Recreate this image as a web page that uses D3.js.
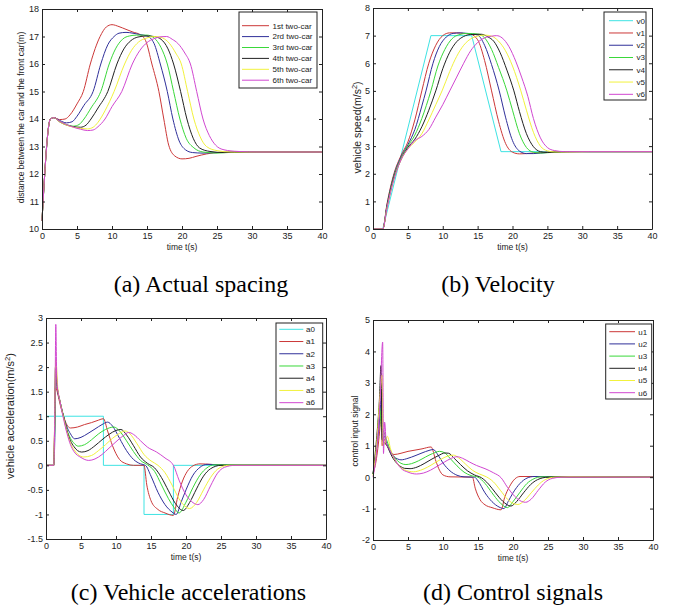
<!DOCTYPE html>
<html>
<head>
<meta charset="utf-8">
<script src="https://cdn.jsdelivr.net/npm/d3@7"></script>
<style>
body { margin: 0; background: #fff; }
svg text { font-family: "Liberation Sans", Arial, sans-serif; fill: #222; }
svg text.caption { font-family: "Liberation Serif", "Times New Roman", serif; fill: #000; }
</style>
</head>
<body>
<script>
// values, [time, value]
const timeTicks = [0, 5, 10, 15, 20, 25, 30, 35, 40]

const spacingTicks = [10, 11, 12, 13, 14, 15, 16, 17, 18]
const speedTicks = [0, 1, 2, 3, 4, 5, 6, 7, 8]
const accelTicks = [-1.5, -1, -0.5, 0, 0.5, 1, 1.5, 2, 2.5, 3]
const controlTicks = [-2, -1, 0, 1, 2, 3, 4, 5]

const spacingNames = ['1st two-car', '2rd two-car', '3rd two-car', '4th two-car', '5th two-car', '6th two-car']
const speedNames = ['v0', 'v1', 'v2', 'v3', 'v4', 'v5', 'v6']
const accelNames = ['a0', 'a1', 'a2', 'a3', 'a4', 'a5', 'a6']
const controlNames = ['u1', 'u2', 'u3', 'u4', 'u5', 'u6']

const spacing1 = [[0,10.3],[1.2,14],[1.7,14.05],[2.5,13.98],[3.3,14.0],[4,14.15],[5,14.55],[5.9,15],[6.9,16],[8.3,17],[9.2,17.35],[10,17.43],[11,17.36],[12,17.26],[13,17.16],[14,17.07],[14.8,16.85],[15.7,16],[16.7,15],[17.4,14],[18.1,13.05],[19,12.65],[20,12.55],[21,12.57],[22,12.64],[23.5,12.73],[25.5,12.79],[28,12.8],[40,12.8]]
const spacing2 = [[0,10.3],[1.2,14],[1.7,14.05],[2.5,13.95],[3.5,13.86],[4.3,13.9],[5,14.1],[6,14.5],[7.3,15],[8.4,16],[9.4,16.7],[10.3,17.0],[11,17.12],[12,17.15],[13,17.12],[14,17.07],[15,17.02],[16,16.75],[16.9,16],[17.9,15],[18.7,14],[19.6,13.2],[20.5,12.88],[21.5,12.78],[23,12.76],[25,12.78],[27,12.8],[40,12.8]]
const spacing3 = [[0,10.3],[1.2,14],[1.7,14.05],[2.5,13.92],[3.5,13.8],[4.5,13.74],[5.3,13.8],[6,14.0],[7,14.4],[8.4,15],[9.6,16],[10.5,16.55],[11.5,16.9],[12.5,17.02],[13.5,17.05],[15,17.05],[16,16.95],[17,16.6],[17.9,16],[18.8,15],[19.7,14],[20.6,13.3],[21.7,12.95],[23,12.8],[25,12.76],[28,12.8],[40,12.8]]
const spacing4 = [[0,10.3],[1.2,14],[1.7,14.05],[2.5,13.9],[3.5,13.78],[4.5,13.72],[5.5,13.7],[6.3,13.78],[7,14.0],[8,14.4],[9.4,15],[10.7,16],[11.7,16.55],[12.7,16.85],[13.7,16.98],[15,17.02],[16,17.0],[17,16.9],[18,16.55],[18.8,16],[19.8,15],[20.7,14],[21.6,13.3],[22.5,12.95],[24,12.82],[26,12.78],[29,12.8],[40,12.8]]
const spacing5 = [[0,10.3],[1.2,14],[1.7,14.05],[2.5,13.9],[3.5,13.78],[4.5,13.7],[5.5,13.66],[6.5,13.64],[7.3,13.7],[8,13.88],[9,14.3],[10.3,15],[11.8,16],[12.8,16.5],[13.8,16.8],[15,16.95],[16.2,17.0],[17.2,16.95],[18.2,16.75],[19.1,16.4],[19.9,16],[20.8,15],[21.7,14],[22.6,13.35],[23.5,13.0],[25,12.85],[27,12.8],[40,12.8]]
const spacing6 = [[0,10.3],[1.2,14],[1.7,14.05],[2.5,13.92],[3.5,13.8],[4.5,13.7],[5.5,13.63],[6.5,13.58],[7.3,13.6],[8,13.72],[9,14.0],[10,14.45],[11.4,15],[12.9,16],[14,16.5],[15,16.78],[16,16.92],[17,16.99],[17.8,17.0],[18.6,16.9],[19.4,16.75],[20.4,16.4],[21.2,16],[22.1,15],[23,14],[23.9,13.4],[24.8,13.05],[26,12.88],[28,12.82],[31,12.8],[40,12.8]]

const speed0 = [[0,0],[1.4,0],[8.3,7],[14.15,7],[18.35,2.8],[40,2.8]]
const speed1 = [[0,0],[1.4,0],[2,0.9],[3,2.0],[4,2.65],[5,3.15],[6,3.95],[7,5.0],[8,6.0],[9,6.65],[10,7.0],[11,7.1],[12,7.1],[13,7.08],[14,7.05],[15,6.85],[16,6.1],[17,5.0],[18,3.9],[19,3.1],[20,2.78],[21,2.72],[22,2.73],[24,2.77],[27,2.8],[40,2.8]]
const speed2 = [[0,0],[1.4,0],[2,0.85],[3,1.95],[4,2.6],[5,3.05],[6,3.6],[7,4.45],[7.6,5.0],[8.6,6.0],[9.5,6.6],[10.5,6.95],[11.5,7.08],[12.5,7.1],[13.5,7.08],[15,7.02],[16,6.65],[17,5.95],[18.1,5.0],[19,4.05],[20,3.2],[21,2.82],[22,2.73],[23,2.73],[25,2.77],[28,2.8],[40,2.8]]
const speed3 = [[0,0],[1.4,0],[2,0.8],[3,1.9],[4,2.55],[5,3.0],[6,3.4],[7,4.0],[8.3,5.0],[9.3,5.9],[10.3,6.5],[11.3,6.88],[12.3,7.03],[13.5,7.08],[15,7.06],[16,6.92],[17,6.5],[18,5.85],[19.2,5.0],[20,4.3],[21,3.45],[22,2.95],[23,2.78],[24,2.75],[26,2.78],[29,2.8],[40,2.8]]
const speed4 = [[0,0],[1.4,0],[2,0.8],[3,1.85],[4,2.5],[5,2.95],[6,3.25],[7,3.7],[8,4.3],[9,5.0],[10,5.8],[11,6.4],[12,6.78],[13,6.97],[14,7.04],[15.5,7.05],[16.5,6.95],[17.3,6.8],[18.2,6.4],[19.2,5.75],[20.2,5.0],[21,4.25],[22,3.45],[23,2.98],[24,2.8],[25,2.77],[27,2.79],[30,2.8],[40,2.8]]
const speed5 = [[0,0],[1.4,0],[2,0.75],[3,1.8],[4,2.5],[5,2.9],[6,3.15],[7,3.45],[8,3.95],[9,4.5],[9.9,5.0],[11,5.7],[12,6.25],[13,6.65],[14,6.88],[15,6.98],[16,7.02],[17,6.98],[18,6.8],[19,6.45],[20,5.9],[21.2,5.0],[22,4.3],[23,3.5],[24,3.0],[25,2.83],[26,2.79],[28,2.79],[31,2.8],[40,2.8]]
const speed6 = [[0,0],[1.4,0],[2,0.75],[3,1.8],[4,2.5],[5,2.9],[6,3.2],[7,3.35],[8,3.6],[9,4.05],[10,4.5],[11,5.0],[12,5.5],[13,6.0],[14,6.45],[15,6.75],[16,6.92],[17,6.98],[17.7,7.0],[18.5,6.92],[19.5,6.6],[20.5,6.05],[21.3,5.5],[22.2,4.8],[23,4.0],[24,3.3],[25,2.95],[26,2.84],[27.5,2.8],[40,2.8]]

const accel0 = [[0,1],[8.2,1],[8.2,0],[14,0],[14,-1],[18.2,-1],[18.2,0],[40,0]]
const accel1 = [[0,0],[1.1,0],[1.2,0.6],[1.35,1.6],[1.6,1.5],[2,1.25],[2.5,1.0],[3,0.82],[3.5,0.76],[4.5,0.78],[5.5,0.83],[6.5,0.87],[7.5,0.92],[8.2,0.95],[8.8,0.7],[9.5,0.4],[10.5,0.12],[11.5,0.03],[12.5,0],[14,0],[14.4,-0.4],[15,-0.72],[16,-0.9],[17,-0.97],[18.2,-1.02],[18.8,-0.65],[19.5,-0.32],[20.2,-0.12],[21,-0.01],[22,0.03],[23.5,0.02],[26,0],[40,0]]
const accel2 = [[0,0],[1.1,0],[1.25,0.5],[1.4,2.0],[1.6,1.6],[2,1.3],[2.5,1.0],[3,0.78],[3.5,0.64],[4.1,0.54],[5,0.57],[6,0.65],[7,0.74],[8,0.83],[8.8,0.88],[9.5,0.8],[10.5,0.55],[11.5,0.3],[12.5,0.12],[13.5,0.03],[14.2,0],[15,-0.22],[16,-0.55],[17,-0.8],[18,-0.95],[18.6,-1.0],[19.3,-0.75],[20,-0.5],[21,-0.2],[22,-0.04],[23,0.02],[25,0.01],[28,0],[40,0]]
const accel3 = [[0,0],[1.1,0],[1.25,0.7],[1.4,1.8],[1.7,1.5],[2,1.3],[2.5,1.0],[3,0.72],[3.5,0.55],[4,0.45],[4.6,0.39],[5.5,0.42],[6.5,0.52],[7.5,0.64],[8.5,0.73],[9.7,0.78],[10.5,0.7],[11.5,0.5],[12.5,0.28],[13.5,0.1],[14.5,0.01],[15.5,-0.12],[16.5,-0.4],[17.5,-0.68],[18.3,-0.86],[19,-0.97],[20,-0.75],[21,-0.45],[22,-0.2],[23,-0.05],[24,0.01],[26,0.01],[40,0]]
const accel4 = [[0,0],[1.1,0],[1.2,0.5],[1.35,2.0],[1.6,1.6],[2,1.3],[2.5,1.0],[3,0.7],[3.5,0.5],[4,0.38],[4.5,0.3],[5.1,0.27],[6,0.3],[7,0.4],[8,0.52],[9,0.63],[10,0.71],[10.7,0.73],[11.5,0.62],[12.5,0.4],[13.5,0.17],[14.5,0.04],[15.5,-0.05],[16.5,-0.25],[17.5,-0.52],[18.5,-0.78],[19.6,-0.92],[20.5,-0.76],[21.5,-0.48],[22.5,-0.22],[23.5,-0.07],[25,0],[40,0]]
const accel5 = [[0,0],[1.1,0],[1.4,2.15],[1.7,1.55],[2,1.3],[2.5,0.98],[3,0.68],[3.5,0.45],[4,0.32],[4.5,0.23],[5.4,0.17],[6.5,0.2],[7.5,0.3],[8.5,0.42],[9.5,0.55],[10.5,0.65],[11.3,0.7],[12,0.64],[13,0.44],[14,0.22],[15,0.09],[16,0.0],[17,-0.15],[18,-0.4],[19,-0.68],[20,-0.85],[20.5,-0.88],[21.5,-0.76],[22.5,-0.5],[23.5,-0.25],[24.5,-0.08],[26,0],[40,0]]
const accel6 = [[0,0],[1.1,0],[1.3,1.5],[1.4,2.87],[1.55,1.7],[2,1.3],[2.5,0.95],[3,0.65],[3.5,0.42],[4,0.28],[5,0.16],[6.1,0.1],[7,0.13],[8,0.22],[9,0.35],[10,0.48],[11,0.6],[11.8,0.67],[12.5,0.63],[13.5,0.5],[14.5,0.37],[15.8,0.27],[17,0.15],[18.2,0.0],[19,-0.3],[20,-0.6],[21,-0.76],[21.7,-0.8],[22.5,-0.7],[23.5,-0.42],[24.5,-0.16],[25.5,-0.04],[27,0],[40,0]]

const control1 = [[0,0.1],[0.5,0.6],[1.0,1.6],[1.2,2.2],[1.3,1.0],[1.6,1.2],[2,1.0],[2.5,0.82],[3,0.72],[4,0.76],[5,0.82],[6,0.86],[7,0.9],[8.3,0.96],[9,0.5],[9.5,0.22],[10,0.07],[11,0.01],[14.2,0],[14.6,-0.35],[15.3,-0.72],[16,-0.88],[17,-0.97],[18.3,-1.04],[18.8,-0.65],[19.5,-0.3],[20.3,-0.05],[21,0.02],[23,0.02],[26,0],[40,0]]
const control2 = [[0,0.1],[0.5,0.9],[1.0,2.0],[1.2,2.7],[1.35,1.2],[1.6,1.3],[2,1.05],[2.5,0.8],[3,0.65],[3.5,0.58],[4,0.55],[5,0.6],[6,0.68],[7,0.77],[8,0.85],[8.6,0.88],[9.3,0.7],[10,0.45],[11,0.2],[12,0.06],[13,0.01],[14.5,0],[15,-0.12],[16,-0.5],[17,-0.78],[18,-0.95],[18.7,-1.0],[19.3,-0.78],[20,-0.5],[21,-0.2],[22,-0.03],[23,0.02],[26,0.01],[40,0]]
const control3 = [[0,0.1],[0.5,0.9],[0.95,2.2],[1.2,1.6],[1.4,1.5],[1.7,1.35],[2,1.15],[2.5,0.85],[3,0.65],[3.5,0.52],[4,0.44],[4.7,0.4],[5.5,0.43],[6.5,0.52],[7.5,0.64],[8.5,0.75],[9.5,0.82],[10.2,0.78],[11,0.6],[12,0.36],[13,0.16],[14,0.05],[15,0.0],[16,-0.2],[17,-0.5],[18,-0.78],[19.2,-0.97],[20,-0.78],[21,-0.48],[22,-0.2],[23,-0.05],[24,0.01],[26,0.01],[40,0]]
const control4 = [[0,0.1],[0.5,1.2],[0.9,2.4],[1.15,3.55],[1.3,1.2],[1.6,1.1],[2,1.0],[2.5,0.75],[3,0.55],[3.5,0.42],[4,0.33],[4.5,0.28],[5.3,0.27],[6.3,0.32],[7.3,0.43],[8.3,0.56],[9.3,0.68],[10.3,0.77],[10.8,0.76],[11.6,0.6],[12.5,0.4],[13.5,0.2],[14.5,0.07],[15.5,-0.02],[16.5,-0.22],[17.5,-0.5],[18.5,-0.76],[19.7,-0.92],[20.5,-0.78],[21.5,-0.5],[22.5,-0.24],[23.5,-0.08],[25,0],[27,0.01],[40,0]]
const control5 = [[0,0.05],[0.5,1.0],[1.0,2.6],[1.3,3.25],[1.45,1.0],[1.7,1.1],[2.05,1.3],[2.5,0.9],[3,0.6],[3.5,0.42],[4,0.3],[4.5,0.23],[5.8,0.17],[6.8,0.22],[7.8,0.32],[8.8,0.45],[9.8,0.58],[10.8,0.68],[11.5,0.7],[12.2,0.62],[13.2,0.42],[14.2,0.22],[15.2,0.1],[16.2,0.01],[17.2,-0.15],[18.2,-0.42],[19.2,-0.7],[20.3,-0.86],[20.7,-0.87],[21.6,-0.75],[22.6,-0.5],[23.6,-0.25],[24.6,-0.08],[26,0],[28,0.01],[40,0]]
const control6 = [[0,0],[0.5,0.8],[1.0,2.4],[1.38,4.3],[1.5,0.75],[1.66,1.75],[1.9,1.1],[2.3,0.9],[3,0.62],[3.5,0.42],[4,0.28],[5,0.16],[6.2,0.1],[7.2,0.13],[8.2,0.22],[9.2,0.35],[10.2,0.48],[11.2,0.6],[12,0.65],[12.8,0.6],[13.8,0.48],[14.8,0.37],[16,0.27],[17.2,0.14],[18.3,-0.02],[19.2,-0.32],[20.2,-0.6],[21.2,-0.77],[21.8,-0.8],[22.6,-0.7],[23.6,-0.42],[24.6,-0.16],[25.6,-0.04],[27,0],[40,0]]

const leaderColor = '#3ee3e3'
const followerColors = ['#cc3838', '#30309a', '#3ad83a', '#222222', '#f2f23c', '#d147d1']

const svg = d3.select('body').append('svg').attr('width', 678).attr('height', 610)
svg.append('rect').attr('width', 678).attr('height', 610).attr('fill', '#fff')

const drawPanel = p => {
  const x = d3.scaleLinear().domain([0, 40]).range([p.left, p.right])
  const y = d3.scaleLinear().domain(d3.extent(p.yTicks)).range([p.bottom, p.top])
  const g = svg.append('g')

  const line = d3.line().x(d => x(d[0])).y(d => y(d[1]))
  p.series.forEach(s => {
    g.append('path')
      .datum(s.values)
      .attr('fill', 'none')
      .attr('stroke', s.color)
      .attr('stroke-width', 1)
      .attr('d', line.curve(s.linear ? d3.curveLinear : d3.curveMonotoneX))
  })

  const styleAxis = a => {
    a.attr('font-size', 9).attr('font-family', null)
    a.select('.domain').attr('stroke', '#222')
    a.selectAll('.tick line').attr('stroke', '#222')
  }
  g.append('g').attr('transform', `translate(0,${p.bottom})`)
    .call(d3.axisBottom(x).tickValues(timeTicks).tickSizeInner(-3).tickSizeOuter(0).tickPadding(4).tickFormat(d => String(d)))
    .call(styleAxis)
  g.append('g').attr('transform', `translate(0,${p.top})`)
    .call(d3.axisTop(x).tickValues(timeTicks).tickSizeInner(-3).tickSizeOuter(0).tickFormat(''))
    .call(styleAxis)
  g.append('g').attr('transform', `translate(${p.left},0)`)
    .call(d3.axisLeft(y).tickValues(p.yTicks).tickSizeInner(-3).tickSizeOuter(0).tickPadding(3).tickFormat(d => String(d)))
    .call(styleAxis)
  g.append('g').attr('transform', `translate(${p.right},0)`)
    .call(d3.axisRight(y).tickValues(p.yTicks).tickSizeInner(-3).tickSizeOuter(0).tickFormat(''))
    .call(styleAxis)

  g.append('text')
    .attr('x', (p.left + p.right) / 2).attr('y', p.bottom + 20.5)
    .attr('text-anchor', 'middle').attr('font-size', 8.5)
    .text('time t(s)')

  const yl = g.append('text')
    .attr('transform', `translate(${p.yLabelX},${p.yLabelY}) rotate(-90)`)
    .attr('dy', '0.35em').attr('text-anchor', 'middle').attr('font-size', p.yLabelSize)
    .text(p.yLabel)
  if (p.yLabelTail) {
    yl.append('tspan').attr('baseline-shift', 'super').attr('font-size', p.yLabelSize * 0.7).text('2')
    yl.append('tspan').text(p.yLabelTail)
  }

  const lg = p.legend
  const leg = g.append('g')
  leg.append('rect')
    .attr('x', lg.x).attr('y', lg.y).attr('width', lg.w).attr('height', lg.h)
    .attr('fill', '#fff').attr('stroke', '#222').attr('stroke-width', 1)
  p.series.forEach((s, i) => {
    const yy = lg.y + lg.first + i * lg.step
    leg.append('line')
      .attr('x1', lg.x + lg.l1).attr('x2', lg.x + lg.l2).attr('y1', yy).attr('y2', yy)
      .attr('stroke', s.color).attr('stroke-width', 1)
    leg.append('text')
      .attr('x', lg.x + lg.tx).attr('y', yy).attr('dy', '0.35em')
      .attr('font-size', 8).text(s.name)
  })

  svg.append('text').attr('class', 'caption')
    .attr('x', p.capX).attr('y', p.capY).attr('text-anchor', 'middle')
    .attr('font-size', 24).text(p.caption)
}

const spacingSeries = [spacing1, spacing2, spacing3, spacing4, spacing5, spacing6]
  .map((v, i) => ({ name: spacingNames[i], values: v, color: followerColors[i] }))
const speedSeries = [speed0, speed1, speed2, speed3, speed4, speed5, speed6]
  .map((v, i) => ({ name: speedNames[i], values: v, color: i ? followerColors[i - 1] : leaderColor, linear: i === 0 }))
const accelSeries = [accel0, accel1, accel2, accel3, accel4, accel5, accel6]
  .map((v, i) => ({ name: accelNames[i], values: v, color: i ? followerColors[i - 1] : leaderColor, linear: i === 0 }))
const controlSeries = [control1, control2, control3, control4, control5, control6]
  .map((v, i) => ({ name: controlNames[i], values: v, color: followerColors[i] }))

drawPanel({
  left: 42, right: 322, top: 9, bottom: 229, yTicks: spacingTicks, series: spacingSeries,
  yLabel: 'distance between the car and the front car(m)', yLabelX: 21, yLabelY: 117.5, yLabelSize: 8.5,
  legend: { x: 239, y: 12, w: 78, h: 76, first: 13.7, step: 10.9, l1: 3, l2: 30, tx: 33.5 },
  caption: '(a) Actual spacing', capX: 201, capY: 292
})
drawPanel({
  left: 373, right: 652, top: 8, bottom: 229, yTicks: speedTicks, series: speedSeries,
  yLabel: 'vehicle speed(m/s', yLabelTail: ')', yLabelX: 357.5, yLabelY: 127.5, yLabelSize: 10.5,
  legend: { x: 604, y: 12, w: 42, h: 88, first: 8.7, step: 12.27, l1: 5, l2: 29, tx: 32.5 },
  caption: '(b) Velocity', capX: 498, capY: 292
})
drawPanel({
  left: 46, right: 326, top: 318, bottom: 539, yTicks: accelTicks, series: accelSeries,
  yLabel: 'vehicle acceleration(m/s', yLabelTail: ')', yLabelX: 10, yLabelY: 416, yLabelSize: 11,
  legend: { x: 276, y: 323, w: 46.7, h: 86, first: 6.3, step: 12.23, l1: 3.3, l2: 27.3, tx: 30 },
  caption: '(c) Vehicle accelerations', capX: 188.5, capY: 600
})
drawPanel({
  left: 373, right: 653, top: 320, bottom: 540, yTicks: controlTicks, series: controlSeries,
  yLabel: 'control input signal', yLabelX: 355, yLabelY: 431, yLabelSize: 8.5,
  legend: { x: 605.7, y: 324, w: 46, h: 75, first: 7.7, step: 12.2, l1: 3.6, l2: 29.3, tx: 32.6 },
  caption: '(d) Control signals', capX: 513, capY: 600
})
</script>
</body>
</html>
